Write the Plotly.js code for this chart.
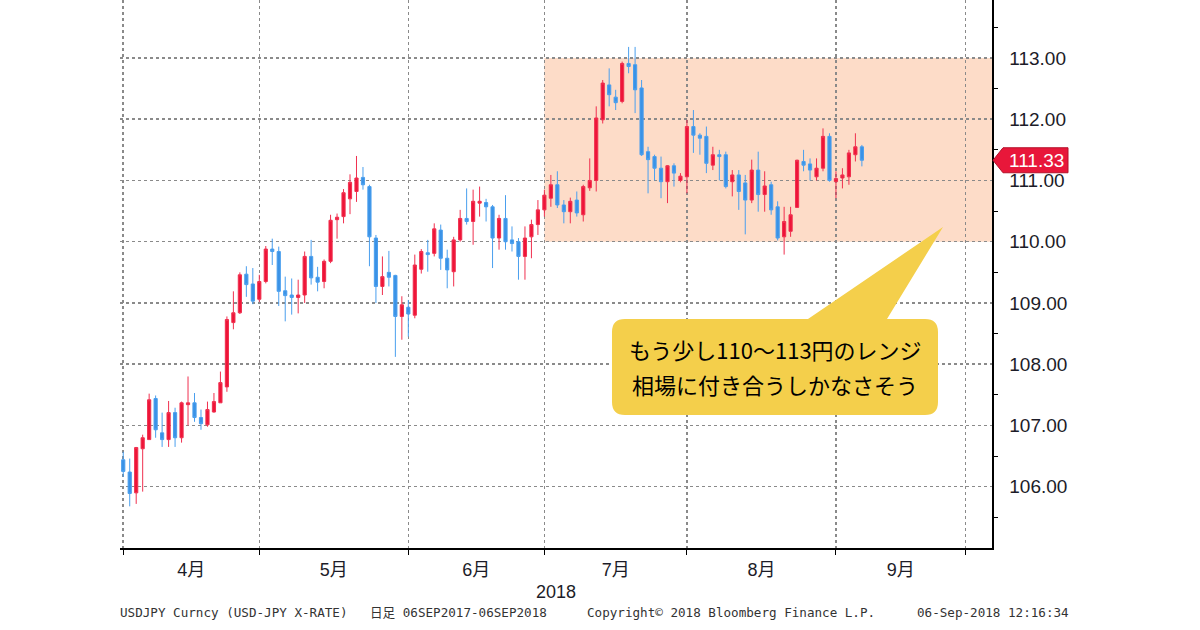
<!DOCTYPE html>
<html>
<head>
<meta charset="utf-8">
<script src="https://cdn.plot.ly/plotly-3.0.1.min.js"></script>
<style>
html,body{margin:0;padding:0;background:#ffffff;}
#chart{width:1200px;height:630px;}
</style>
</head>
<body>
<div id="chart"></div>
<script>
// ---- data (USDJPY daily) ----
const dates = [
 '2018-03-30',
 '2018-04-02','2018-04-03','2018-04-04','2018-04-05','2018-04-06','2018-04-09','2018-04-10','2018-04-11','2018-04-12','2018-04-13',
 '2018-04-16','2018-04-17','2018-04-18','2018-04-19','2018-04-20','2018-04-23','2018-04-24','2018-04-25','2018-04-26','2018-04-27','2018-04-30',
 '2018-05-01','2018-05-02','2018-05-03','2018-05-04','2018-05-07','2018-05-08','2018-05-09','2018-05-10','2018-05-11','2018-05-14',
 '2018-05-15','2018-05-16','2018-05-17','2018-05-18','2018-05-21','2018-05-22','2018-05-23','2018-05-24','2018-05-25','2018-05-28',
 '2018-05-29','2018-05-30','2018-05-31',
 '2018-06-01','2018-06-04','2018-06-05','2018-06-06','2018-06-07','2018-06-08','2018-06-11','2018-06-12','2018-06-13','2018-06-14',
 '2018-06-15','2018-06-18','2018-06-19','2018-06-20','2018-06-21','2018-06-22','2018-06-25','2018-06-26','2018-06-27','2018-06-28','2018-06-29',
 '2018-07-02','2018-07-03','2018-07-04','2018-07-05','2018-07-06','2018-07-09','2018-07-10','2018-07-11','2018-07-12','2018-07-13',
 '2018-07-16','2018-07-17','2018-07-18','2018-07-19','2018-07-20','2018-07-23','2018-07-24','2018-07-25','2018-07-26','2018-07-27',
 '2018-07-30','2018-07-31',
 '2018-08-01','2018-08-02','2018-08-03','2018-08-06','2018-08-07','2018-08-08','2018-08-09','2018-08-10','2018-08-13','2018-08-14',
 '2018-08-15','2018-08-16','2018-08-17','2018-08-20','2018-08-21','2018-08-22','2018-08-23','2018-08-24','2018-08-27','2018-08-28',
 '2018-08-29','2018-08-30','2018-08-31',
 '2018-09-03','2018-09-04','2018-09-05','2018-09-06'
];
const openP = [
 106.44,
 106.24,105.90,106.62,106.77,107.44,106.88,106.77,107.21,106.80,107.34,
 107.37,107.13,107.01,107.22,107.37,107.63,108.68,108.84,109.47,109.31,109.06,
 109.35,109.88,109.84,109.20,109.13,109.09,109.13,109.76,109.42,109.35,
 109.68,110.36,110.41,110.70,110.82,111.05,110.90,110.06,109.27,109.50,
 109.45,108.78,108.93,
 108.80,109.55,109.82,109.81,110.19,109.73,109.51,110.03,110.38,110.33,
 110.63,110.64,110.57,110.06,110.38,110.03,110.00,109.76,110.08,110.28,110.52,
 110.71,110.93,110.60,110.49,110.68,110.44,110.88,111.00,111.99,112.56,
 112.36,112.29,112.91,112.89,112.51,111.47,111.39,111.20,110.98,111.24,
 111.00,111.06,
 111.88,111.74,111.72,111.25,111.42,111.42,110.98,111.09,110.96,110.68,
 111.17,110.77,110.93,110.57,110.08,110.17,110.56,111.31,111.27,111.06,
 111.20,111.72,110.98,
 111.04,111.06,111.42,111.55
];
const highP = [
 106.57,
 106.46,106.65,106.85,107.52,107.49,107.21,107.40,107.29,107.39,107.80,
 107.53,107.26,107.39,107.53,107.88,108.78,109.19,109.50,109.60,109.57,109.46,
 109.93,110.05,109.92,109.43,109.40,109.38,109.84,110.03,109.59,109.71,
 110.44,110.46,110.86,111.10,111.40,111.22,110.93,110.11,109.76,109.85,
 109.46,109.11,109.05,
 109.79,109.88,110.03,110.30,110.28,109.87,110.08,110.52,110.87,110.85,
 110.90,110.70,110.60,110.44,110.76,110.25,110.06,110.25,110.36,110.68,110.85,
 111.09,111.15,110.68,110.72,110.82,110.93,111.36,112.21,112.64,112.83,
 112.48,112.94,113.18,113.18,112.64,111.55,111.42,111.39,111.25,111.28,
 111.12,111.99,
 112.15,111.77,111.88,111.55,111.50,111.47,111.17,111.17,111.09,111.34,
 111.47,111.15,110.98,110.66,110.57,110.57,111.34,111.50,111.36,111.36,
 111.85,111.77,111.15,
 111.20,111.50,111.77,111.58
];
const lowP = [
 106.16,
 105.68,105.72,105.92,106.77,106.80,106.65,106.65,106.65,106.72,107.00,
 107.06,106.93,106.98,107.21,107.37,107.55,108.57,108.82,109.10,108.98,109.02,
 109.32,109.62,108.95,108.70,108.81,108.83,109.00,109.30,109.19,109.24,
 109.65,110.05,110.30,110.45,110.65,110.85,109.60,109.00,109.13,109.27,
 108.12,108.40,108.45,
 108.75,109.48,109.51,109.76,109.54,109.24,109.27,110.00,110.28,109.95,
 110.41,110.33,109.57,109.87,109.87,109.84,109.38,109.38,109.73,110.11,110.41,
 110.57,110.55,110.30,110.30,110.41,110.33,110.83,110.82,111.93,112.21,
 112.15,112.26,112.75,112.10,111.40,110.79,111.00,110.71,110.63,110.90,
 110.97,110.79,
 111.45,111.42,111.12,111.17,111.00,110.87,110.74,110.52,110.12,110.63,
 110.49,110.49,110.44,110.02,109.79,110.08,110.55,111.15,111.00,111.00,
 111.15,110.98,110.71,
 110.87,110.93,111.31,111.23
];
const closeP = [
 106.25,
 105.89,106.64,106.80,107.42,106.93,106.77,107.21,106.80,107.37,107.37,
 107.13,107.03,107.26,107.39,107.70,108.73,108.84,109.46,109.30,109.03,109.35,
 109.88,109.84,109.19,109.12,109.09,109.13,109.76,109.41,109.34,109.68,
 110.35,110.40,110.80,110.97,111.04,110.93,110.08,109.27,109.43,109.42,
 108.78,108.97,108.82,
 109.62,109.84,109.79,110.21,109.73,109.54,110.03,110.38,110.33,110.66,
 110.66,110.57,110.06,110.38,110.00,109.97,109.76,110.06,110.28,110.52,110.76,
 110.93,110.60,110.49,110.66,110.47,110.90,111.00,112.02,112.59,112.40,
 112.27,112.91,112.86,112.48,111.42,111.34,111.20,110.98,111.24,111.12,
 111.07,111.88,
 111.74,111.69,111.28,111.42,111.39,110.90,111.09,110.82,110.68,111.17,
 110.77,110.91,110.52,110.06,110.33,110.44,111.33,111.25,111.17,111.20,
 111.72,111.00,111.03,
 111.09,111.45,111.55,111.33
];

// axis labels / ticks
const monthLabels = ['4月','5月','6月','7月','8月','9月'];
const monthLabelDates = ['2018-04-16','2018-05-16','2018-06-15','2018-07-16 12:00','2018-08-16','2018-09-14 12:00'];
const monthGridDates = ['2018-03-30 12:00','2018-04-30 12:00','2018-05-31 12:00','2018-06-29 12:00','2018-07-31 12:00','2018-08-31 12:00','2018-09-28 12:00'];
const yTicks = [106,107,108,109,110,111,112,113];
const yMinorTicks = [105.5,106.5,107.5,108.5,109.5,110.5,111.5,112.5,113.5];
const yArrowTicks = [105,106,107,108,109,110,111,112,113];
const xRange = ['2018-03-30','2018-10-04 14:00'];
const yRange = [105, 113.946];

// range box
const boxLow = 110, boxHigh = 113, boxStart = '2018-06-29 12:00';
const noteLines = ['もう少し110〜113円のレンジ','相場に付き合うしかなさそう'];
const yearLabel = '2018';
const footerTexts = ['USDJPY Curncy (USD-JPY X-RATE)',
                     '日足 06SEP2017-06SEP2018',
                     'Copyright© 2018 Bloomberg Finance L.P.',
                     '06-Sep-2018 12:16:34'];
const footerX = [118, 368, 585, 915];

// ---- layout geometry ----
const W = 1200, H = 630;
const M = {l:120, r:208, t:0, b:82};
const PW = W - M.l - M.r, PH = H - M.t - M.b;
const px = x => (x - M.l) / PW;
const py = y => (M.t + PH - y) / PH;
const unitPx = PH / (yRange[1] - yRange[0]);

const lastClose = closeP[closeP.length - 1];

// callout path
function calloutPath(){
  const l=612, r=938, t=319, b=415, rad=13;
  const a=808, c=887, tipX=943, tipY=227;
  const P=(x,y)=>px(x).toFixed(5)+','+py(y).toFixed(5);
  return 'M'+P(l+rad,t)+' L'+P(a,t)+' L'+P(tipX,tipY)+' L'+P(c,t)+' L'+P(r-rad,t)+
    ' Q'+P(r,t)+' '+P(r,t+rad)+' L'+P(r,b-rad)+' Q'+P(r,b)+' '+P(r-rad,b)+
    ' L'+P(l+rad,b)+' Q'+P(l,b)+' '+P(l,b-rad)+' L'+P(l,t+rad)+' Q'+P(l,t)+' '+P(l+rad,t)+' Z';
}
// price tag path (paper x, data y)
function tagPath(){
  const h = 12.5 / unitPx;
  const x0 = px(993), x1 = px(1003), x2 = px(1068);
  return 'M'+x0+','+lastClose+' L'+x1+','+(lastClose+h)+' L'+x2+','+(lastClose+h)+
         ' L'+x2+','+(lastClose-h)+' L'+x1+','+(lastClose-h)+' Z';
}

const gridColor = '#8a8a8a';

const candle = {
  type:'candlestick',
  x: dates.map(d => d + ' 12:00'),
  open: openP, high: highP, low: lowP, close: closeP,
  increasing:{line:{color:'#f0304f', width:1}, fillcolor:'#ee1438'},
  decreasing:{line:{color:'#4a9fee', width:1}, fillcolor:'#3a92e6'},
  whiskerwidth:0,
  hoverinfo:'skip',
  showlegend:false
};

const arrows = {
  type:'scatter', mode:'markers',
  x: yArrowTicks.map(() => 1 + 3/PW),
  y: yArrowTicks,
  xaxis:'x2', yaxis:'y',
  cliponaxis:false,
  marker:{symbol:'triangle-right', size:9, color:'#000'},
  hoverinfo:'skip', showlegend:false
};

const footerAnn = footerTexts.map((t, i) => ({
  xref:'paper', yref:'paper', x:px(footerX[i]), y:py(612), text:t,
  showarrow:false, xanchor:'left', yanchor:'middle',
  font:{family:'DejaVu Sans Mono, Noto Sans CJK JP, monospace', size:12.6, color:'#333'}
}));

const layout = {
  width:W, height:H,
  margin:{l:M.l, r:M.r, t:M.t, b:M.b, pad:0},
  paper_bgcolor:'#ffffff',
  plot_bgcolor:'rgba(0,0,0,0)',
  showlegend:false,
  font:{family:'Liberation Sans, Noto Sans CJK JP, sans-serif', color:'#1c1c28'},
  xaxis:{
    type:'date', range:xRange,
    rangebreaks:[{bounds:['sat','mon']}],
    rangeslider:{visible:false},
    tickmode:'array', tickvals:monthLabelDates, ticktext:monthLabels,
    ticks:'outside', ticklen:5, tickcolor:'rgba(0,0,0,0)',
    tickfont:{family:'Liberation Sans, Noto Sans CJK JP, sans-serif', size:18, color:'#1c1c28'},
    showgrid:false, zeroline:false,
    showline:true, linecolor:'#000', linewidth:1.5,
    minor:{tickmode:'array', tickvals:monthGridDates, ticks:'outside', ticklen:5,
           tickcolor:'#000', tickwidth:1, showgrid:true, gridcolor:gridColor,
           griddash:'dot', gridwidth:1.5},
    fixedrange:true
  },
  xaxis2:{overlaying:'x', range:[0,1], showgrid:false, zeroline:false,
          showline:false, showticklabels:false, ticks:'', fixedrange:true},
  yaxis:{
    side:'right', range:yRange,
    tickmode:'array', tickvals:yTicks, ticktext:yTicks.map(v => v.toFixed(2)),
    ticks:'outside', ticklen:12, tickcolor:'rgba(0,0,0,0)',
    tickfont:{family:'Liberation Sans, sans-serif', size:19, color:'#1c1c28'},
    showgrid:true, gridcolor:gridColor, griddash:'dot', gridwidth:1.5,
    zeroline:false, showline:true, linecolor:'#000', linewidth:1.5,
    minor:{tickmode:'array', tickvals:yMinorTicks, ticks:'outside', ticklen:4,
           tickcolor:'#000', tickwidth:1, showgrid:false},
    fixedrange:true
  },
  shapes:[
    {type:'rect', xref:'x', yref:'y', x0:boxStart, x1:xRange[1], y0:boxLow, y1:boxHigh,
     fillcolor:'#fddcc8', line:{width:0}, layer:'below'},
    {type:'path', xref:'paper', yref:'paper', path:calloutPath(),
     fillcolor:'#f4cf4b', line:{width:0}, layer:'above'},
    {type:'path', xref:'paper', yref:'y', path:tagPath(),
     fillcolor:'#e8173a', line:{color:'#b5102a', width:1}, layer:'above'}
  ],
  annotations:[
    {xref:'paper', yref:'y', x:px(1036), y:lastClose, text:lastClose.toFixed(2),
     showarrow:false, xanchor:'center', yanchor:'middle',
     font:{family:'Liberation Sans, sans-serif', size:19, color:'#ffffff'}},
    {xref:'paper', yref:'paper', x:px(775), y:py(349), text:noteLines[0],
     showarrow:false, xanchor:'center', yanchor:'middle',
     font:{family:'Noto Sans CJK JP, sans-serif', size:22, color:'#000'}},
    {xref:'paper', yref:'paper', x:px(775), y:py(384), text:noteLines[1],
     showarrow:false, xanchor:'center', yanchor:'middle',
     font:{family:'Noto Sans CJK JP, sans-serif', size:22, color:'#000'}},
    {xref:'paper', yref:'paper', x:0.5, y:py(592), text:yearLabel,
     showarrow:false, xanchor:'center', yanchor:'middle',
     font:{family:'Liberation Sans, sans-serif', size:18, color:'#1c1c28'}}
  ].concat(footerAnn)
};

Plotly.newPlot('chart', [candle, arrows], layout, {displayModeBar:false, staticPlot:true});
</script>
</body>
</html>
